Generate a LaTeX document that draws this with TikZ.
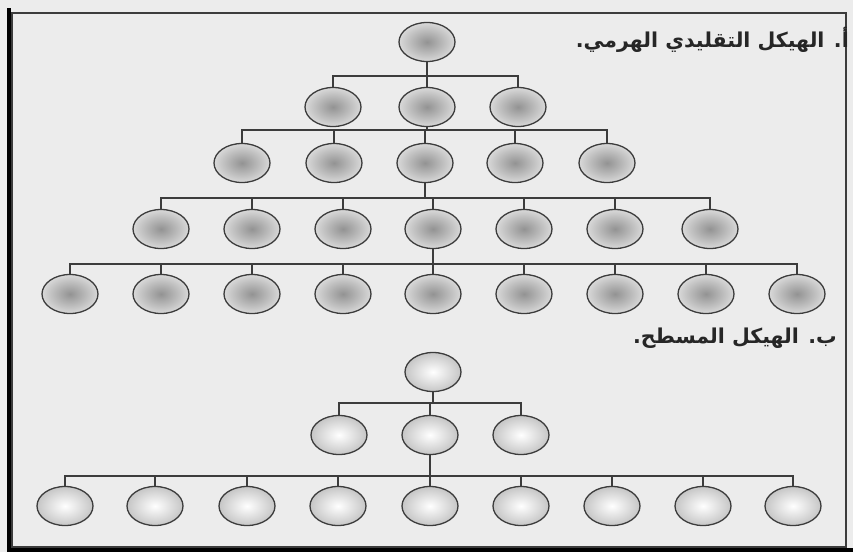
\documentclass[tikz,border=0pt]{standalone}
\usepackage{fontspec}
\usetikzlibrary{shapes.geometric}
\newfontfamily\arabicfont[Script=Arabic]{DejaVu Sans}
\TeXXeTstate=1
\definecolor{bgc}{HTML}{ECECEC}
\definecolor{edgec}{HTML}{3C3C3C}
\tikzset{
  hnode/.style={ellipse, draw=edgec, line width=1.3pt, minimum width=56pt, minimum height=39pt, inner sep=0pt, inner color=gray!85, outer color=gray!30, shade},
  fnode/.style={ellipse, draw=edgec, line width=1.3pt, minimum width=56pt, minimum height=39pt, inner sep=0pt, inner color=white, outer color=gray!45, shade},
  conn/.style={draw=edgec, line width=1.1pt},
  lbl/.style={font=\arabicfont\bfseries\fontsize{20.5}{24}\selectfont, text=black!85, inner sep=0pt}
}
\begin{document}
\begin{tikzpicture}[x=1pt,y=-1pt]
\useasboundingbox (0,0) rectangle (853,552);
\fill[bgc] (0,0) rectangle (853,552);
\draw[edgec, line width=1.5pt] (12,13) rectangle (846,547);
\draw[black, line width=4pt] (9,8) -- (9,550) -- (853,550);
% labels
\node[lbl, anchor=east] (la) at (849,40) {\beginR أ. الهيكل التقليدي الهرمي.\endR};
\node[lbl, anchor=east] (lb) at (837,338) {\beginR ب. الهيكل المسطح.\endR};
% hierarchical
\node[hnode] (r) at (427,42) {};
\coordinate (b1) at (0,76);
\coordinate (b2) at (0,130);
\coordinate (b3) at (0,198);
\coordinate (b4) at (0,264);
\foreach \x [count=\i] in {333,427,518} \node[hnode] (a\i) at (\x,107) {};
\foreach \x [count=\i] in {242,334,425,515,607} \node[hnode] (c\i) at (\x,163) {};
\foreach \x [count=\i] in {161,252,343,433,524,615,710} \node[hnode] (d\i) at (\x,229) {};
\foreach \x [count=\i] in {70,161,252,343,433,524,615,706,797} \node[hnode] (e\i) at (\x,294) {};
\foreach \i in {1,2,3} \draw[conn] (r.south) -- (r.south |- b1) -| (a\i.north);
\foreach \i in {1,...,5} \draw[conn] (a2.south) -- (a2.south |- b2) -| (c\i.north);
\foreach \i in {1,...,7} \draw[conn] (c3.south) -- (c3.south |- b3) -| (d\i.north);
\foreach \i in {1,...,9} \draw[conn] (d4.south) -- (d4.south |- b4) -| (e\i.north);
% flat
\node[fnode] (fr) at (433,372) {};
\coordinate (f1) at (0,403);
\coordinate (f2) at (0,476);
\foreach \x [count=\i] in {339,430,521} \node[fnode] (g\i) at (\x,435) {};
\foreach \x [count=\i] in {65,155,247,338,430,521,612,703,793} \node[fnode] (h\i) at (\x,506) {};
\foreach \i in {1,2,3} \draw[conn] (fr.south) -- (fr.south |- f1) -| (g\i.north);
\foreach \i in {1,...,9} \draw[conn] (g2.south) -- (g2.south |- f2) -| (h\i.north);
\end{tikzpicture}
\end{document}
